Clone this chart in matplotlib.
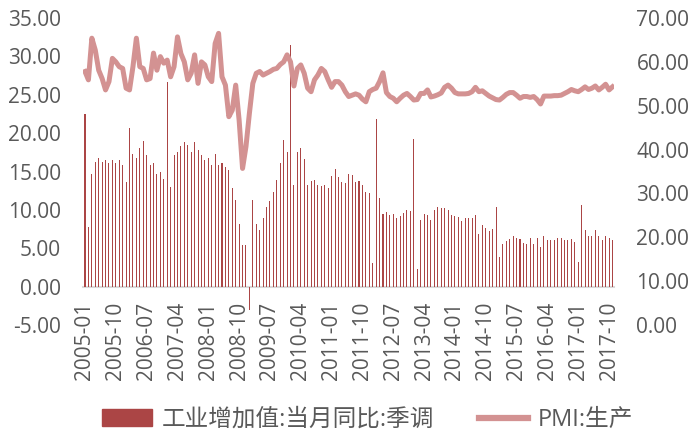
import matplotlib
matplotlib.use("Agg")
import matplotlib.pyplot as plt
import numpy as np
from matplotlib.patches import Patch
from matplotlib.lines import Line2D

# monthly, 2005-01 .. 2017-11
start_year, start_month = 2005, 1

iva_yoy = [
    22.5, 7.8, 14.7, 16.2, 16.7, 16.3, 16.5, 16.1, 16.5, 16.1, 16.5, 15.8,
    13.6, 20.7, 17.3, 16.8, 18.1, 19.0, 17.2, 15.8, 16.1, 14.7, 14.9, 14.0,
    26.7, 13.0, 17.1, 17.6, 18.3, 18.9, 18.5, 17.5, 18.9, 17.8, 17.2, 16.5,
    16.7, 15.9, 17.3, 15.9, 16.1, 15.6, 15.2, 12.8, 11.3, 8.2, 5.4, 5.4,
    -3.0, 11.3, 8.1, 7.4, 9.0, 10.4, 11.1, 12.3, 13.9, 16.1, 19.1, 17.6,
    31.5, 13.2, 17.5, 18.0, 16.6, 13.3, 13.8, 13.9, 13.3, 13.1, 13.2, 12.9,
    14.4, 15.3, 14.3, 13.6, 13.5, 14.7, 14.5, 13.6, 13.8, 13.2, 12.3, 12.2,
    3.1, 21.9, 11.6, 9.4, 9.7, 9.3, 9.5, 8.9, 9.2, 9.6, 10.0, 9.9,
    19.2, 2.3, 8.7, 9.4, 9.3, 8.7, 10.0, 10.4, 10.2, 10.3, 10.0, 9.3,
    9.2, 9.1, 8.6, 8.9, 8.9, 8.9, 9.3, 6.9, 8.0, 7.7, 7.2, 7.5,
    10.4, 3.8, 5.5, 6.0, 6.2, 6.6, 6.3, 6.2, 5.7, 5.6, 6.3, 5.6,
    6.4, 5.1, 6.6, 6.1, 6.1, 6.1, 6.3, 6.3, 6.1, 6.1, 6.2, 5.8,
    3.2, 10.7, 7.4, 6.6, 6.6, 7.4, 6.6, 6.1, 6.6, 6.3, 6.1,
]

pmi_production = [
    57.8, 55.9, 65.4, 62.7, 58.1, 56.2, 53.6, 55.5, 60.8, 60.0, 58.9, 58.5,
    54.0, 53.6, 58.9, 65.4, 58.9, 58.5, 55.9, 56.2, 62.0, 58.1, 61.2, 59.7,
    60.4, 56.6, 58.9, 65.7, 61.9, 60.0, 55.9, 57.4, 61.6, 55.1, 60.0, 59.3,
    56.6, 55.5, 64.2, 66.5, 56.6, 54.7, 47.5, 49.0, 54.7, 46.7, 35.7, 40.7,
    48.3, 55.1, 57.4, 57.8, 57.0, 57.4, 57.8, 58.3, 58.5, 59.4, 60.0, 61.6,
    60.0, 54.5, 58.5, 59.3, 57.4, 54.0, 53.2, 55.9, 57.0, 58.5, 57.8, 55.9,
    54.2, 55.5, 55.5, 54.7, 53.2, 52.1, 52.4, 52.7, 52.4, 51.5, 50.9, 53.2,
    53.7, 54.0, 55.5, 57.5, 53.0, 52.1, 51.7, 50.9, 51.7, 52.4, 52.8, 52.1,
    51.3, 51.4, 52.8, 52.8, 53.6, 52.0, 52.2, 52.5, 52.9, 54.2, 54.7, 54.0,
    53.0, 52.7, 52.7, 52.7, 52.8, 53.2, 54.2, 53.2, 53.4, 52.8, 52.2, 51.8,
    51.4, 51.3, 51.9, 52.6, 53.0, 53.0, 52.4, 51.7, 52.1, 52.1, 51.9, 52.1,
    51.4, 50.4, 52.2, 52.2, 52.2, 52.3, 52.3, 52.4, 52.8, 53.2, 53.7, 53.4,
    53.2, 53.7, 54.3, 53.7, 54.0, 54.5, 53.6, 54.2, 54.9, 53.6, 54.3,
]

months = [f"{start_year + (start_month - 1 + i) // 12}-{(start_month - 1 + i) % 12 + 1:02d}"
          for i in range(len(iva_yoy))]

bar_name = "工业增加值:当月同比:季调"
line_name = "PMI:生产"

bar_color = "#AB4545"
line_color = "#D39292"
text_color = "#595959"

plt.rcParams["font.family"] = ["Open Sans", "Noto Sans CJK SC", "DejaVu Sans"]

fig = plt.figure(figsize=(6.94, 4.32), dpi=100)
ax = fig.add_axes([0.120, 0.2477, 0.765, 0.7106])
x = np.arange(len(iva_yoy))

# x axis sits on the zero line (do this before setting tick labels)
for s in ["top", "right", "left"]:
    ax.spines[s].set_visible(False)
ax.spines["bottom"].set_position(("data", 0))
ax.spines["bottom"].set_color("#D9D9D9")
ax.spines["bottom"].set_linewidth(1.5)
ax.spines["bottom"].set_zorder(1)

ax.bar(x, iva_yoy, width=0.3, color=bar_color, zorder=2)
ax.set_xlim(-0.5, len(iva_yoy) - 0.5)
ax.set_ylim(-5, 35)
ax.set_yticks(np.arange(-5, 36, 5))
ax.set_yticklabels([f"{v:.2f}" for v in np.arange(-5, 36, 5)])

ticks = x[::9]
ax.set_xticks(ticks)
ax.set_xticklabels([months[i] for i in ticks])
ax.tick_params(axis="x", length=0, pad=11, labelsize=15, labelcolor=text_color,
               labelrotation=90)
ax.tick_params(axis="y", length=0, pad=16, labelsize=15, labelcolor=text_color)

ax2 = ax.twinx()
ax2.plot(x, pmi_production, color=line_color, lw=3.6, solid_joinstyle="round")
ax2.set_ylim(0, 70)
ax2.set_yticks(np.arange(0, 71, 10))
ax2.set_yticklabels([f"{v:.2f}" for v in np.arange(0, 71, 10)])
for s in ax2.spines.values():
    s.set_visible(False)
ax2.tick_params(axis="y", length=0, pad=16, labelsize=15, labelcolor=text_color)

handles = [Patch(color=bar_color, label=bar_name),
           Line2D([0], [0], color=line_color, lw=4.5, label=line_name)]
leg = fig.legend(handles=handles, loc="center", bbox_to_anchor=(0.530, 0.028),
                 ncol=2, frameon=False, fontsize=17, handlelength=2.1,
                 handletextpad=0.4, columnspacing=1.9, labelcolor=text_color)

fig.savefig("out.png", dpi=100)
